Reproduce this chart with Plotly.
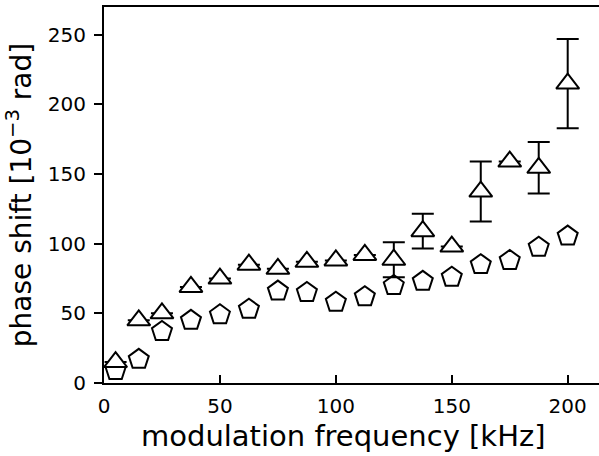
import plotly.graph_objects as go

# modulation frequency [kHz]
freq = [5, 15, 25, 37.5, 50, 62.5, 75, 87.5, 100, 112.5, 125, 137.5, 150, 162.5, 175, 187.5, 200]
# triangle series (phase shift, 10^-3 rad)
tri_y = [15, 45, 50, 69, 75, 85, 82, 87, 88, 92, 88.5, 109, 98, 137.5, 159, 154.5, 215]
tri_err = [0, 0, 0, 0, 0, 0, 0, 0, 0, 0, 12.5, 12.5, 0, 21.5, 0, 18.5, 32]
# pentagon series
pent_y = [9, 17, 37, 45, 49, 53, 66, 65, 58, 62, 70, 73, 76, 85, 88, 97.5, 105.5]

x_ticks = [0, 50, 100, 150, 200]
y_ticks = [0, 50, 100, 150, 200, 250]

x_title = "modulation frequency [kHz]"
y_title = "phase shift [10<sup>−3</sup> rad]"

FONT = "DejaVu Sans"

fig = go.Figure()

fig.add_trace(go.Scatter(
    x=freq, y=pent_y, mode="markers",
    marker=dict(symbol="pentagon", size=21, color="white",
                line=dict(color="black", width=2)),
    cliponaxis=False, showlegend=False,
))

fig.add_trace(go.Scatter(
    x=freq, y=tri_y, mode="markers",
    marker=dict(symbol="triangle-up", size=20, color="white",
                line=dict(color="black", width=2)),
    error_y=dict(type="data", array=tri_err, visible=True,
                 color="black", thickness=2, width=11),
    cliponaxis=False, showlegend=False,
))

fig.update_layout(
    width=599, height=456,
    margin=dict(l=104, r=0, t=7, b=73, autoexpand=False),
    paper_bgcolor="white", plot_bgcolor="white",
    font=dict(family=FONT, color="black", size=20),
    annotations=[dict(
        text=x_title, xref="paper", yref="paper", x=0.483, y=0,
        xanchor="center", yanchor="top", yshift=-34, showarrow=False,
        font=dict(size=29, family=FONT, color="black"),
    )],
)

fig.update_xaxes(
    range=[0, 213.5], tickvals=x_ticks, ticktext=[str(v) for v in x_ticks],
    showgrid=False, zeroline=False, automargin=False,
    showline=True, linecolor="black", linewidth=2, mirror=True,
    ticks="inside", ticklen=8, tickwidth=2, tickcolor="black",
    tickfont=dict(size=20, family=FONT), ticklabelstandoff=4,
)
fig.update_yaxes(
    range=[0, 270], tickvals=y_ticks, ticktext=[str(v) for v in y_ticks],
    showgrid=False, zeroline=False, automargin=False,
    showline=True, linecolor="black", linewidth=2,
    ticks="outside", ticklen=8, tickwidth=2, tickcolor="black",
    tickfont=dict(size=20, family=FONT), ticklabelstandoff=4,
    title=dict(text=y_title, font=dict(size=28, family=FONT), standoff=8),
)

fig.write_html("out.html", config={"displayModeBar": False},
               post_script="document.body.style.margin='0';document.body.style.overflow='hidden';")
